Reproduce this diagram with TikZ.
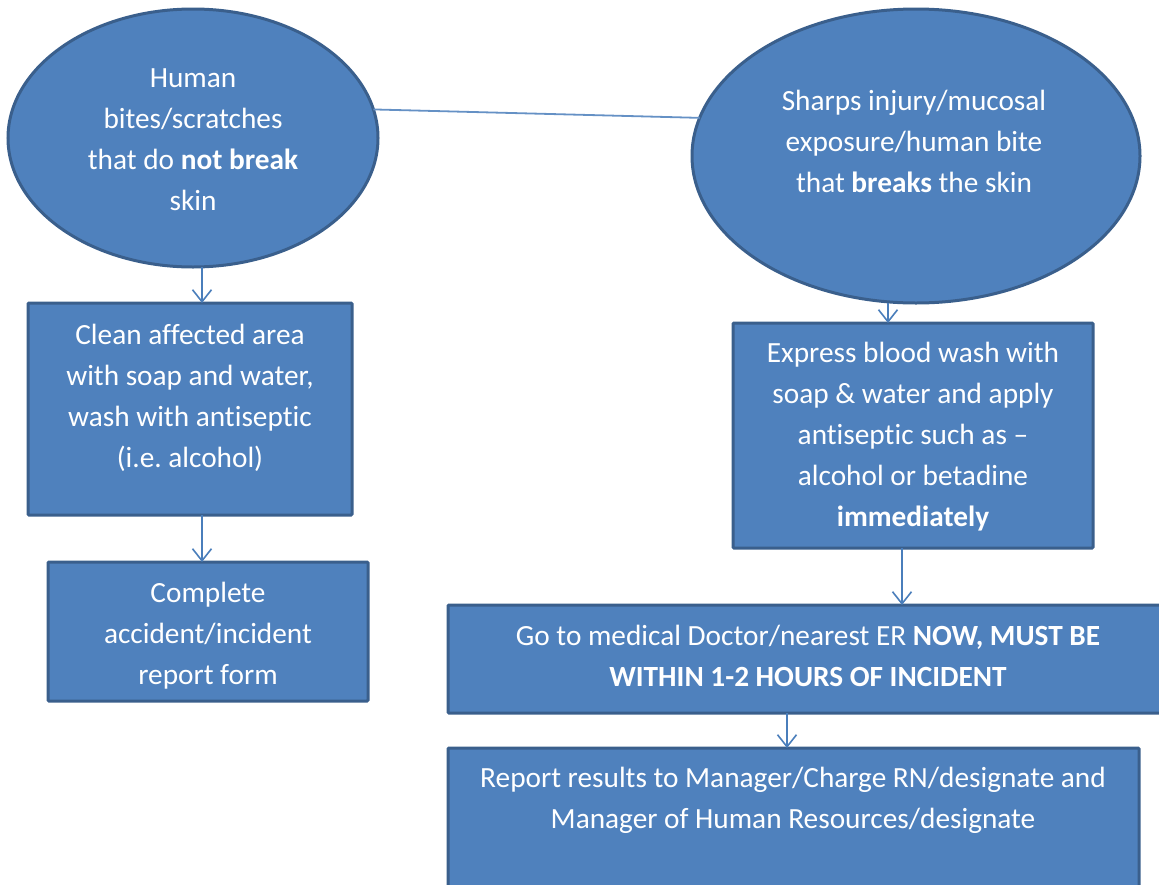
\documentclass[tikz,border=0pt]{standalone}
\usepackage{fontspec}
\setmainfont{Carlito}[Ligatures={NoCommon,NoRare,NoContextual}]
\usetikzlibrary{shapes.geometric,arrows.meta}
\definecolor{boxfill}{HTML}{4F81BD}
\definecolor{boxline}{HTML}{3A5F8C}
\definecolor{wire}{HTML}{4A7EBB}
\frenchspacing
\begin{document}
\begin{tikzpicture}[x=1pt,y=-1pt,
  shapebase/.style={fill=boxfill, draw=boxline, line width=3pt, inner sep=0pt, outer sep=0pt},
  oval/.style={shapebase, ellipse},
  stepbox/.style={shapebase, rectangle, rounded corners=1pt},
  txt/.style={text=white, align=center, font=\fontsize{29.3}{41}\selectfont, inner sep=0pt},
  arr/.style={draw=wire, line width=1.6pt, -{Straight Barb[length=12pt,width=19pt]}},
  link/.style={draw=wire!85!white, line width=1.8pt}]

\useasboundingbox (0,0) rectangle (1159,884);
\clip (0,0) rectangle (1159,884);

% the two starting situations
\node[oval, minimum width=370pt, minimum height=258pt] (e1) at (193,138) {};
\node[oval, minimum width=448pt, minimum height=294pt] (e2) at (916,156) {};
\draw[link] (e1.9) -- (e2.170);

% left branch
\node[stepbox, minimum width=324pt, minimum height=212pt] (b1) at (190,409) {};
\node[stepbox, minimum width=320pt, minimum height=139pt] (b2) at (208,631.5) {};

% right branch
\node[stepbox, minimum width=360pt, minimum height=225pt] (b3) at (913,435.5) {};
\node[stepbox, minimum width=720pt, minimum height=108pt] (b4) at (808,659) {};
\node[stepbox, minimum width=691pt, minimum height=160pt] (b5) at (793.5,828) {};

% texts
\node[txt] (t1) at ([yshift=-2pt]e1.center)
  {Human\\bites/scratches\\that do \textbf{not break}\\skin};
\node[txt] (t2) at ([xshift=-2pt,yshift=15pt]e2.center)
  {Sharps injury/mucosal\\exposure/human bite\\that \textbf{breaks} the skin};
\node[txt] (t3) at ([yshift=11.5pt]b1.center)
  {Clean affected area\\with soap and water,\\wash with antiseptic\\(i.e. alcohol)};
\node[txt] (t4) at ([yshift=-4.5pt]b2.center)
  {Complete\\accident/incident\\report form};
\node[txt] (t5) at ([yshift=-1.5pt]b3.center)
  {Express blood wash with\\soap \& water and apply\\antiseptic such as --\\alcohol or betadine\\\textbf{immediately}};
\node[txt] (t6) at ([yshift=3pt]b4.center)
  {Go to medical Doctor/nearest ER \textbf{NOW, MUST BE}\\\textbf{WITHIN 1-2 HOURS OF INCIDENT}};
\node[txt] (t7) at (793,800)
  {Report results to Manager/Charge RN/designate and\\Manager of Human Resources/designate};

% arrows between steps
\coordinate (a1) at ([xshift=12pt]b1.north);
\coordinate (a2) at ([xshift=-6pt]b2.north);
\coordinate (a3) at ([xshift=-25pt]b3.north);
\coordinate (a4) at (902,605);
\coordinate (a5) at (787,748);
\draw[arr] (e1.south -| a1) -- (a1);
\draw[arr] (b1.south -| a2) -- (a2);
\draw[arr] (e2.south -| a3) -- (a3);
\draw[arr] (b3.south -| a4) -- (a4);
\draw[arr] (b4.south -| a5) -- (a5);
\end{tikzpicture}
\end{document}
